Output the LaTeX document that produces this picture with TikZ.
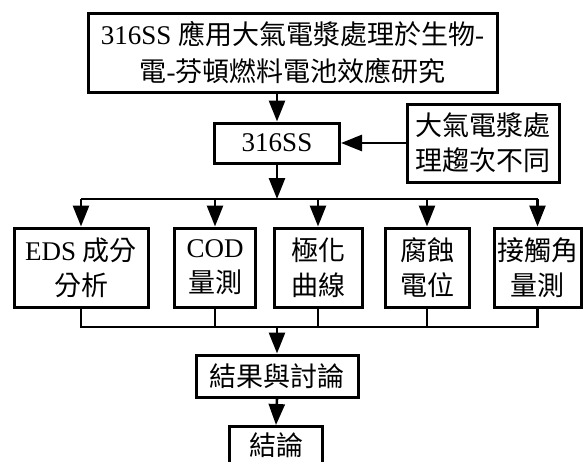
\documentclass[tikz,border=0pt]{standalone}
\usepackage{fontspec}
\setmainfont{Liberation Serif}
\newfontfamily\cjkf{Noto Sans CJK TC}
\usetikzlibrary{arrows.meta}
\begin{document}
\begin{tikzpicture}[x=1pt,y=-1pt,
  box/.style={draw=black, line width=3pt, fill=white, inner sep=0pt, align=center,
    font=\fontsize{27}{35}\selectfont},
  conn/.style={line width=2.6pt},
  arr/.style={conn, -{Triangle[length=21pt,width=16pt]}}]
\useasboundingbox (0,0) rectangle (583,461);
\fill[white] (0,0) rectangle (583,461);
% nodes
\node[box, minimum width=409pt, minimum height=79pt, font=\fontsize{27}{37}\selectfont] (top) at (292.5,52.5)
  {316SS {\cjkf 應用大氣電漿處理於生物}-\\{\cjkf 電}-{\cjkf 芬頓燃料電池效應研究}};
\node[box, minimum width=125pt, minimum height=40pt] (s316) at (277,143) {316SS};
\node[box, minimum width=152pt, minimum height=78pt] (side) at (483,143)
  {{\cjkf 大氣電漿處}\\{\cjkf 理趨次不同}};
\coordinate (bus) at (277,199);
\coordinate (bus2) at (277,327);
\node[box, minimum width=134pt, minimum height=79pt] (b1) at (81,267.5) {EDS {\cjkf 成分}\\{\cjkf 分析}};
\node[box, minimum width=81pt, minimum height=79pt] (b2) at (215,267.5) {COD\\{\cjkf 量測}};
\node[box, minimum width=88pt, minimum height=79pt] (b3) at (318,267.5) {{\cjkf 極化}\\{\cjkf 曲線}};
\node[box, minimum width=84pt, minimum height=79pt] (b4) at (427,267.5) {{\cjkf 腐蝕}\\{\cjkf 電位}};
\node[box, minimum width=87pt, minimum height=79pt] (b5) at (537.5,267.5) {{\cjkf 接觸角}\\{\cjkf 量測}};
\node[box, minimum width=162pt, minimum height=42pt] (res) at (277,376) {{\cjkf 結果與討論}};
\node[box, minimum width=93pt, minimum height=50pt, anchor=north] (con) at (276,425) {{\cjkf 結論}\rule[-14pt]{0pt}{10pt}};
% connectors
\draw[arr] (top.south -| s316.north) -- (s316.north);
\draw[arr] (side.west) -- (s316.east);
\draw[arr] (s316.south) -- (bus);
\draw[conn] (b1.north |- bus) -- (b5.north |- bus);
\foreach \b in {b1,b2,b3,b4,b5}{
  \draw[arr] (\b.north |- bus) -- (\b.north);
}
\draw[conn] (b1.south) -- (b1.south |- bus2) -- (b5.south |- bus2) -- (b5.south);
\foreach \b in {b2,b3,b4}{
  \draw[conn] (\b.south) -- (\b.south |- bus2);
}
\draw[arr] (bus2) -- (res.north);
\draw[arr] (res.south) -- (con.north);
\end{tikzpicture}
\end{document}
